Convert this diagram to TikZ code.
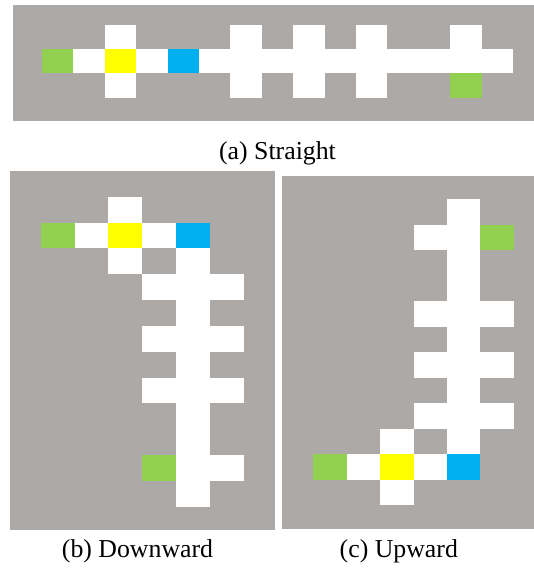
\documentclass[tikz,border=0pt]{standalone}
\usepackage{fontspec}
\setmainfont{Liberation Serif}
\definecolor{panelgray}{RGB}{173,169,167}
\definecolor{cgreen}{RGB}{146,208,80}
\definecolor{cyellow}{RGB}{255,255,0}
\definecolor{cblue}{RGB}{0,176,240}
\tikzset{
  panel/.style={fill=panelgray},
  wcell/.style={fill=white},
  gcell/.style={fill=cgreen},
  ycell/.style={fill=cyellow},
  bcell/.style={fill=cblue},
  caption/.style={anchor=base, inner sep=0pt, font=\fontsize{25.8}{30}\selectfont}
}
\newcommand\mycell[3][wcell]{\fill[#1] (#2,#3) rectangle ++(1,1);}
\begin{document}
\begin{tikzpicture}[x=1pt,y=-1pt]
\useasboundingbox (0,0) rectangle (534,577);
% panels
\fill[panel] (12.7,5) rectangle (534,120.7);
\fill[panel] (10,171) rectangle (275,529.5);
\fill[panel] (282,176) rectangle (534,529.3);
% panel (a)
\begin{scope}[shift={(42pt,-25pt)}, x=31.4pt, y=-24.2pt]
  \mycell[gcell]{0}{1}
  \mycell{1}{1}
  \mycell[ycell]{2}{1}
  \mycell{3}{1}
  \mycell[bcell]{4}{1}
  \fill[wcell] (5,1) rectangle (15,2);
  \foreach \c in {2,6,8,10,13} {\mycell{\c}{0}}
  \foreach \c in {2,6,8,10} {\mycell{\c}{2}}
  \mycell[gcell]{13}{2}
\end{scope}
% panel (b)
\begin{scope}[shift={(40.7pt,-196.7pt)}, x=33.83pt, y=-25.83pt]
  \mycell{2}{0}
  \mycell[gcell]{0}{1}
  \mycell{1}{1}
  \mycell[ycell]{2}{1}
  \mycell{3}{1}
  \mycell[bcell]{4}{1}
  \mycell{2}{2}
  \fill[wcell] (4,2) rectangle (5,12);
  \foreach \r in {3,5,7,10} {\mycell{3}{\r}\mycell{5}{\r}}
  \mycell[gcell]{3}{10}
\end{scope}
% panel (c)
\begin{scope}[shift={(313.3pt,-199.3pt)}, x=33.4pt, y=-25.5pt]
  \fill[wcell] (4,0) rectangle (5,10);
  \mycell{3}{1}
  \mycell[gcell]{5}{1}
  \foreach \r in {4,6,8} {\mycell{3}{\r}\mycell{5}{\r}}
  \mycell{2}{9}
  \mycell[gcell]{0}{10}
  \mycell{1}{10}
  \mycell[ycell]{2}{10}
  \mycell{3}{10}
  \mycell[bcell]{4}{10}
  \mycell{2}{11}
\end{scope}
% captions
\node[caption] (capa) at (277.5,160) {(a) Straight};
\node[caption] (capb) at (137.5,557) {(b) Downward};
\node[caption] (capc) at (398.8,557) {(c) Upward};
\end{tikzpicture}
\end{document}
